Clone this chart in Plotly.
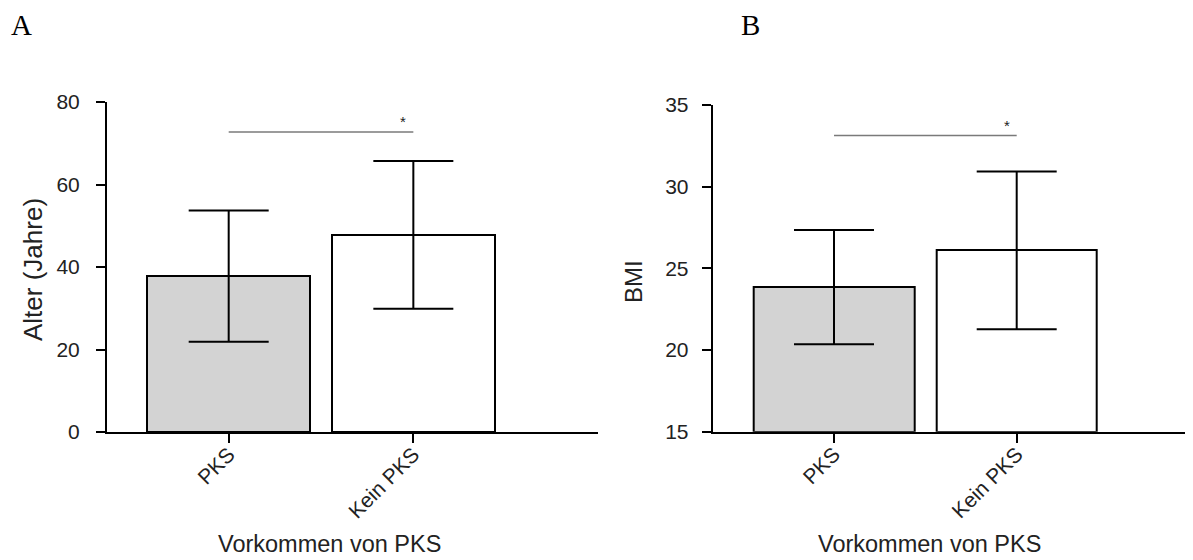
import plotly.graph_objects as go

categories = ["PKS", "Kein PKS"]
age_mean = [37.8, 47.8]
age_sd = [15.9, 17.9]
bmi_mean = [23.85, 26.1]
bmi_sd = [3.5, 4.83]
fill_colors = ["#d3d3d3", "#ffffff"]
age_sig_y = 72.7
bmi_sig_y = 33.13

FONT = "Arial, Liberation Sans, sans-serif"
SERIF = "Liberation Serif, Times New Roman, serif"

# page body has an 8px margin: the figure is sized to fill the rest of the window
OFF = 8
W, H = 1193 - OFF, 560 - OFF


def px(x):
    return (x - OFF) / W


def py(y):
    return (560 - y) / H


fig = go.Figure()

fig.add_trace(go.Bar(
    x=categories, y=age_mean, width=0.88,
    marker=dict(color=fill_colors, line=dict(color="black", width=2)),
    error_y=dict(type="data", array=age_sd, visible=True, color="black", thickness=2, width=40),
    xaxis="x", yaxis="y", showlegend=False,
))
fig.add_trace(go.Bar(
    x=categories, y=[m - 15 for m in bmi_mean], base=15, width=0.88,
    marker=dict(color=fill_colors, line=dict(color="black", width=2)),
    error_y=dict(type="data", array=bmi_sd, visible=True, color="black", thickness=2, width=40),
    xaxis="x2", yaxis="y2", showlegend=False,
))

axis_common = dict(showline=True, linecolor="black", linewidth=2, ticks="outside",
                   ticklen=9, tickwidth=2, tickcolor="black", showgrid=False, zeroline=False,
                   automargin=False,
                   tickfont=dict(family=FONT, size=21, color="#222"))

fig.update_layout(
    template="none",
    width=W, height=H,
    margin=dict(l=0, r=0, t=0, b=0, pad=0),
    paper_bgcolor="white", plot_bgcolor="white",
    font=dict(family=FONT, color="#222"),
    xaxis=dict(domain=[px(107), px(598)], range=[-0.659, 2.0], anchor="y",
               tickangle=-45, ticklabelstandoff=-9, **axis_common),
    yaxis=dict(domain=[py(432), py(102)], range=[0, 80], anchor="x",
               tickvals=[0, 20, 40, 60, 80], ticklabelstandoff=12, **axis_common),
    xaxis2=dict(domain=[px(712.7), 1.0], range=[-0.664, 1.965], anchor="y2",
                tickangle=-45, ticklabelstandoff=-9, **axis_common),
    yaxis2=dict(domain=[py(431.7), py(105)], range=[15, 35], anchor="x2",
                tickvals=[15, 20, 25, 30, 35], ticklabelstandoff=9, **axis_common),
    bargap=0,
)

# significance lines
fig.add_shape(type="line", xref="x", yref="y", x0=0, x1=1, y0=age_sig_y, y1=age_sig_y,
              line=dict(color="#7a7a7a", width=1.5))
fig.add_shape(type="line", xref="x2", yref="y2", x0=0, x1=1, y0=bmi_sig_y, y1=bmi_sig_y,
              line=dict(color="#7a7a7a", width=1.5))
fig.add_annotation(x=0.944, y=age_sig_y, xref="x", yref="y", text="*", showarrow=False,
                   xanchor="center", yanchor="bottom", font=dict(family=FONT, size=15, color="#222"))
fig.add_annotation(x=0.947, y=bmi_sig_y, xref="x2", yref="y2", text="*", showarrow=False,
                   xanchor="center", yanchor="bottom", font=dict(family=FONT, size=15, color="#222"))

# axis titles
fig.add_annotation(x=px(33), y=py(270), xref="paper", yref="paper",
                   text="Alter (Jahre)", textangle=-90, showarrow=False,
                   xanchor="center", yanchor="middle",
                   font=dict(family=FONT, size=26, color="#222"))
fig.add_annotation(x=px(633), y=py(282), xref="paper", yref="paper",
                   text="BMI", textangle=-90, showarrow=False,
                   xanchor="center", yanchor="middle",
                   font=dict(family=FONT, size=24, color="#222"))
fig.add_annotation(x=px(329), y=py(544), xref="paper", yref="paper",
                   text="Vorkommen von PKS", showarrow=False,
                   xanchor="center", yanchor="middle",
                   font=dict(family=FONT, size=23.5, color="#222"))
fig.add_annotation(x=px(929), y=py(544), xref="paper", yref="paper",
                   text="Vorkommen von PKS", showarrow=False,
                   xanchor="center", yanchor="middle",
                   font=dict(family=FONT, size=23.5, color="#222"))

# panel letters
fig.add_annotation(x=px(9), y=py(25), xref="paper", yref="paper",
                   text="A", showarrow=False, xanchor="left", yanchor="middle",
                   font=dict(family=SERIF, size=29, color="black"))
fig.add_annotation(x=px(739), y=py(25), xref="paper", yref="paper",
                   text="B", showarrow=False, xanchor="left", yanchor="middle",
                   font=dict(family=SERIF, size=29, color="black"))

fig.write_html("out.html")
